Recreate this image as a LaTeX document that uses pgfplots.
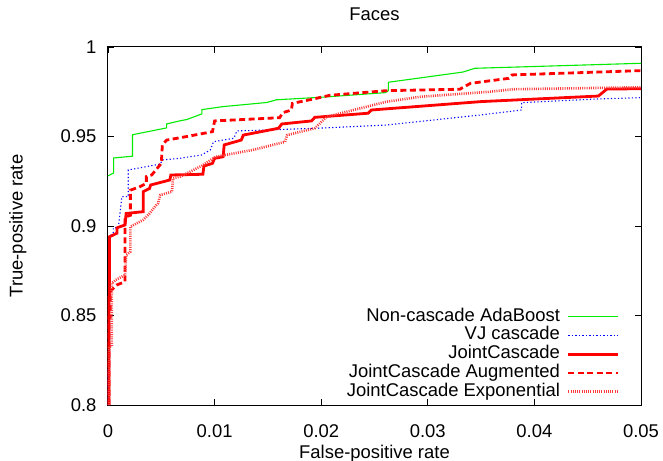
\documentclass[border=0pt]{standalone}
\usepackage{fontspec}
\setmainfont{Liberation Sans}
\usepackage{pgfplots}
\pgfplotsset{compat=1.18}

\definecolor{gpgreen}{RGB}{0,235,0}
\definecolor{gpblue}{RGB}{0,0,255}
\definecolor{gpred}{RGB}{255,0,0}
\definecolor{gppink}{RGB}{255,60,60}

\begin{document}
\begin{tikzpicture}[font=\fontsize{18.5}{22}\selectfont]
\begin{axis}[
    name=ax,
    scale only axis,
    width=533bp, height=358bp,
    xmin=0, xmax=0.05, ymin=0.8, ymax=1,
    xtick={0,0.01,0.02,0.03,0.04,0.05},
    xticklabels={0,0.01,0.02,0.03,0.04,0.05},
    scaled x ticks=false, scaled y ticks=false,
    ytick={0.8,0.85,0.9,0.95,1},
    yticklabels={0.8,0.85,0.9,0.95,1},
    /pgf/number format/assume math mode=true,
    tick align=inside,
    major tick length=6bp,
    tick style={black, line width=0.8bp},
    axis line style={line width=1bp},
    yticklabel style={xshift=-8bp},
    xticklabel style={yshift=-16bp},
    title={Faces},
    title style={at={(axis description cs:0.5,1.0754)}, anchor=center},
    xlabel={False-positive rate},
    xlabel style={at={(axis description cs:0.5,-0.135)}, anchor=center},
    ylabel={True-positive rate},
    ylabel style={at={(axis description cs:-0.169,0.5)}, anchor=center, rotate=0},
    clip=false,
    legend plot pos=right,
    legend cell align=right,
    legend image code/.code={\draw[#1] (0bp,0bp) -- (50bp,0bp);},
    legend style={draw=none, fill=none, at={(axis description cs:1,0)},
        anchor=south east, xshift=-18bp, yshift=2bp,
        nodes={inner sep=1bp, text height=12.5bp, text depth=3.75bp},
        row sep=0.5bp, column sep=6bp},
]
\addplot[gpgreen, line width=1.1bp] coordinates {
(0,0.928) (0.00053,0.9296) (0.00053,0.938) (0.0023,0.939) (0.0023,0.951)
(0.0055,0.9548) (0.0055,0.957) (0.0067,0.9587) (0.0074,0.9595) (0.0088,0.9626)
(0.0088,0.965) (0.0108,0.9667) (0.0149,0.969) (0.0158,0.9705) (0.0202,0.972)
(0.026,0.9745) (0.0263,0.9756) (0.0263,0.9803) (0.0333,0.986) (0.0344,0.9881)
(0.05,0.9909)};
\addlegendentry{Non-cascade AdaBoost}
\addplot[gpblue, line width=1.1bp, dash pattern=on 1.2bp off 2.3bp] coordinates {
(0,0.8) (0,0.8207) (0.00015,0.8207) (0.00015,0.894) (0.0005,0.8965) (0.0005,0.899)
(0.00097,0.899) (0.0013,0.9164) (0.0019,0.9164) (0.0019,0.9313) (0.0049,0.9346)
(0.0051,0.9369) (0.0067,0.9378) (0.0088,0.9397) (0.0096,0.9425) (0.0099,0.9471)
(0.0118,0.949) (0.0121,0.9531) (0.0196,0.9546) (0.0261,0.9564) (0.0349,0.962)
(0.0388,0.9648) (0.0388,0.9689) (0.046,0.971) (0.05,0.9717)};
\addlegendentry{VJ cascade}
\addplot[gpred, line width=2.8bp] coordinates {
(0.0001,0.8) (0.0001,0.86) (0.00015,0.86) (0.00015,0.894) (0.00085,0.896) (0.00085,0.899)
(0.0016,0.9006) (0.0017,0.907) (0.0033,0.908) (0.0033,0.9192) (0.0039,0.921)
(0.004,0.9229) (0.0058,0.9257) (0.0059,0.9285) (0.0089,0.9289) (0.009,0.9335)
(0.0098,0.935) (0.01,0.9378) (0.0108,0.9387) (0.0109,0.9453) (0.0125,0.948)
(0.0127,0.9508) (0.016,0.9546) (0.0163,0.957) (0.0191,0.9587) (0.0194,0.9607)
(0.0244,0.963) (0.0247,0.9648) (0.035,0.9695) (0.046,0.9726) (0.0468,0.9765)
(0.05,0.9767)};
\addlegendentry{JointCascade}
\addplot[gpred, line width=2.8bp, dash pattern=on 6bp off 3.5bp] coordinates {
(0.0001,0.8) (0.0001,0.849) (0.0002,0.849) (0.0002,0.8633) (0.0008,0.867) (0.0016,0.8689)
(0.0016,0.905) (0.0021,0.906) (0.0021,0.92) (0.003,0.922) (0.0036,0.9238)
(0.0036,0.9276) (0.0041,0.9285) (0.005,0.935) (0.0051,0.9453) (0.0055,0.948)
(0.0074,0.95) (0.0098,0.9527) (0.01,0.9587) (0.0161,0.9605) (0.0164,0.9633)
(0.0172,0.9648) (0.0173,0.9685) (0.0193,0.971) (0.0208,0.973) (0.0261,0.9756)
(0.033,0.9764) (0.034,0.9797) (0.0376,0.9825) (0.0379,0.9844) (0.05,0.9868)};
\addlegendentry{JointCascade Augmented}
\addplot[gppink, line width=2.6bp, dash pattern=on 1bp off 1.2bp] coordinates {
(0.0001,0.8) (0.0001,0.8326) (0.00035,0.8326) (0.00035,0.868) (0.0007,0.8698) (0.0016,0.8726)
(0.0017,0.8838) (0.0021,0.8856) (0.0021,0.8996) (0.0033,0.9034) (0.0039,0.907)
(0.0044,0.9108) (0.0047,0.9127) (0.0049,0.9173) (0.006,0.9192) (0.0061,0.9266)
(0.0068,0.9276) (0.0077,0.9303) (0.0089,0.934) (0.0101,0.9387) (0.0136,0.9425)
(0.0166,0.947) (0.0168,0.9508) (0.0194,0.9546) (0.0205,0.961) (0.0261,0.9694)
(0.0293,0.9722) (0.0358,0.975) (0.038,0.9764) (0.05,0.9775)};
\addlegendentry{JointCascade Exponential}
\end{axis}
\pgfresetboundingbox
\path ([shift={(-108bp,-56bp)}]ax.south west) rectangle ([shift={(22bp,47bp)}]ax.north east);
\end{tikzpicture}
\end{document}
